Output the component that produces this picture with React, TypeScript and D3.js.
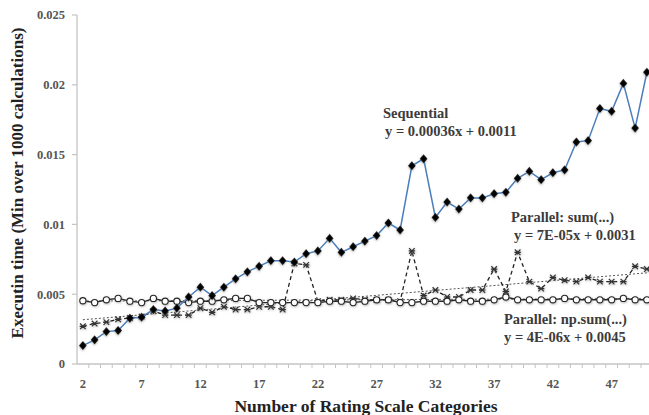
import React from "react";
import * as d3 from "d3";

// categories = number of rating scale categories
const categories = [
  2, 3, 4, 5, 6, 7, 8, 9, 10, 11, 12, 13, 14, 15, 16, 17, 18, 19, 20, 21, 22, 23, 24, 25, 26,
  27, 28, 29, 30, 31, 32, 33, 34, 35, 36, 37, 38, 39, 40, 41, 42, 43, 44, 45, 46, 47, 48, 49, 50,
];

const sequential = [
  0.00132, 0.00173, 0.00232, 0.0024, 0.00328, 0.00335, 0.0039, 0.0038, 0.004, 0.0048, 0.0055,
  0.0049, 0.0055, 0.0061, 0.0066, 0.007, 0.0074, 0.0074, 0.0073, 0.0079, 0.0081, 0.009, 0.008,
  0.0084, 0.0088, 0.0092, 0.0101, 0.0096, 0.0142, 0.0147, 0.0105, 0.0116, 0.0111, 0.0119, 0.0119,
  0.0122, 0.0123, 0.0133, 0.0138, 0.0132, 0.0137, 0.0139, 0.0159, 0.016, 0.0183, 0.0181, 0.0201,
  0.0169, 0.0209,
];

const parallelSum = [
  0.0027, 0.0029, 0.003, 0.0032, 0.0033, 0.0034, 0.0038, 0.0035, 0.0035, 0.0035, 0.004, 0.0037,
  0.0041, 0.0039, 0.0039, 0.0041, 0.0041, 0.0039, 0.0072, 0.0071, 0.0045, 0.0046, 0.0046, 0.0047,
  0.0046, 0.0046, 0.0046, 0.0045, 0.0081, 0.0049, 0.0053, 0.0048, 0.0048, 0.0053, 0.0053, 0.0068,
  0.0052, 0.008, 0.0059, 0.0054, 0.0062, 0.006, 0.0059, 0.0062, 0.0059, 0.0059, 0.0059, 0.007,
  0.0068,
];

const parallelNpSum = [
  0.00453, 0.0044, 0.0046, 0.0047, 0.0045, 0.0044, 0.0047, 0.0045, 0.0045, 0.0044, 0.0045, 0.0045,
  0.0046, 0.0047, 0.0047, 0.0044, 0.0044, 0.0044, 0.0044, 0.0044, 0.0044, 0.0045, 0.0045, 0.0044,
  0.0045, 0.0046, 0.0046, 0.0044, 0.0044, 0.0045, 0.0045, 0.0045, 0.0046, 0.0045, 0.0045, 0.0046,
  0.0048, 0.0046, 0.0046, 0.0046, 0.0046, 0.0047, 0.0046, 0.0046, 0.0046, 0.0046, 0.0047, 0.0046,
  0.0046,
];

// linear trend coefficients as printed on the chart (x = point index 1..n)
const sumTrend = [0.00007, 0.0031];
const npSumTrend = [0.000004, 0.0045];

const yTicks = [0, 0.005, 0.01, 0.015, 0.02, 0.025];
const xTickLabels = [2, 7, 12, 17, 22, 27, 32, 37, 42, 47];

const W = 649;
const H = 415;
const serif = "'Liberation Serif', 'DejaVu Serif', serif";

export default function App() {
  const left = 77;
  const x = d3
    .scaleBand<number>()
    .domain(categories)
    .range([left, left + categories.length * 11.75]);
  const cx = (c: number) => (x(c) as number) + x.bandwidth() / 2;
  const y = d3.scaleLinear().domain([0, 0.025]).range([364, 15]);

  const line = d3
    .line<number>()
    .x((d, i) => cx(categories[i]))
    .y((d) => y(d));

  const trend = (coef: number[]) => {
    const n = categories.length;
    const pts: [number, number][] = [
      [cx(categories[0]), y(coef[0] * 1 + coef[1])],
      [cx(categories[n - 1]), y(coef[0] * n + coef[1])],
    ];
    return d3.line()(pts) as string;
  };

  const square = d3.symbol().type(d3.symbolSquare).size(36)() as string;
  const txt = "#3b3b3b";

  return (
    <svg
      width={W}
      height={H}
      style={{ position: "fixed", left: 0, top: 0, background: "#fff" }}
    >
      <defs>
        <filter id="glow" x="-50%" y="-50%" width="200%" height="200%">
          <feDropShadow dx="0.5" dy="0.8" stdDeviation="1" floodColor="#777" floodOpacity="0.6" />
        </filter>
      </defs>

      {/* axes */}
      <line x1={left} x2={left} y1={y(0.025)} y2={y(0)} stroke="#c4c4c4" strokeWidth={1.3} />
      <line x1={left} x2={W} y1={y(0)} y2={y(0)} stroke="#c4c4c4" strokeWidth={1.3} />
      {yTicks.map((t) => (
        <g key={t}>
          <line x1={left - 5} x2={left} y1={y(t)} y2={y(t)} stroke="#c4c4c4" strokeWidth={1.2} />
          <text
            x={left - 12}
            y={y(t)}
            dy="0.35em"
            textAnchor="end"
            fontFamily={serif}
            fontWeight="bold"
            fontSize={12.5}
            fill="#555"
          >
            {t}
          </text>
        </g>
      ))}
      {categories.map((c) => (
        <line
          key={c}
          x1={(x(c) as number) + x.bandwidth()}
          x2={(x(c) as number) + x.bandwidth()}
          y1={y(0)}
          y2={y(0) + 4}
          stroke="#c4c4c4"
          strokeWidth={1}
        />
      ))}
      {xTickLabels.map((c) => (
        <text
          key={c}
          x={cx(c)}
          y={388}
          textAnchor="middle"
          fontFamily={serif}
          fontWeight="bold"
          fontSize={12.5}
          fill="#555"
        >
          {c}
        </text>
      ))}

      <text
        x={366}
        y={412}
        textAnchor="middle"
        fontFamily={serif}
        fontWeight="bold"
        fontSize={17.5}
        fill="#222"
      >
        Number of Rating Scale Categories
      </text>
      <text
        transform="translate(23,183) rotate(-90)"
        textAnchor="middle"
        fontFamily={serif}
        fontWeight="bold"
        fontSize={17}
        fill="#222"
      >
        Executin time (Min over 1000 calculations)
      </text>

      {/* trend lines */}
      <path d={trend(npSumTrend)} fill="none" stroke="#555" strokeWidth={1} strokeDasharray="2,2" />
      <path d={trend(sumTrend)} fill="none" stroke="#555" strokeWidth={1} strokeDasharray="2,2" />

      {/* Parallel: sum(...) */}
      <path
        d={line(parallelSum) as string}
        fill="none"
        stroke="#222"
        strokeWidth={1.3}
        strokeDasharray="4,3"
      />
      {parallelSum.map((v, i) => (
        <path
          key={i}
          transform={`translate(${cx(categories[i])},${y(v)})`}
          d="M-2.8,-2.8L2.8,2.8M-2.8,2.8L2.8,-2.8M-3.2,0L3.2,0"
          stroke="#333"
          strokeWidth={1.2}
          fill="none"
          filter="url(#glow)"
        />
      ))}

      {/* Parallel: np.sum(...) */}
      <path d={line(parallelNpSum) as string} fill="none" stroke="#222" strokeWidth={1.4} />
      {parallelNpSum.map((v, i) => (
        <circle
          key={i}
          cx={cx(categories[i])}
          cy={y(v)}
          r={3.1}
          fill="#fff"
          stroke="#222"
          strokeWidth={1.1}
          filter="url(#glow)"
        />
      ))}

      {/* Sequential */}
      <path d={line(sequential) as string} fill="none" stroke="#4a7ebb" strokeWidth={1.5} />
      {sequential.map((v, i) => (
        <path
          key={i}
          transform={`translate(${cx(categories[i])},${y(v)}) scale(0.9,1.05) rotate(45)`}
          d={square}
          fill="#000"
          filter="url(#glow)"
        />
      ))}

      {/* annotations */}
      <g fontFamily={serif} fontWeight="bold" fontSize={14.5} fill={txt}>
        <text x={383} y={118}>Sequential</text>
        <text x={385} y={136}>y = 0.00036x + 0.0011</text>
        <text x={511} y={222}>Parallel: sum(...)</text>
        <text x={514} y={240}>y = 7E-05x + 0.0031</text>
        <text x={504} y={324}>Parallel: np.sum(...)</text>
        <text x={504} y={342}>y = 4E-06x + 0.0045</text>
      </g>
    </svg>
  );
}
